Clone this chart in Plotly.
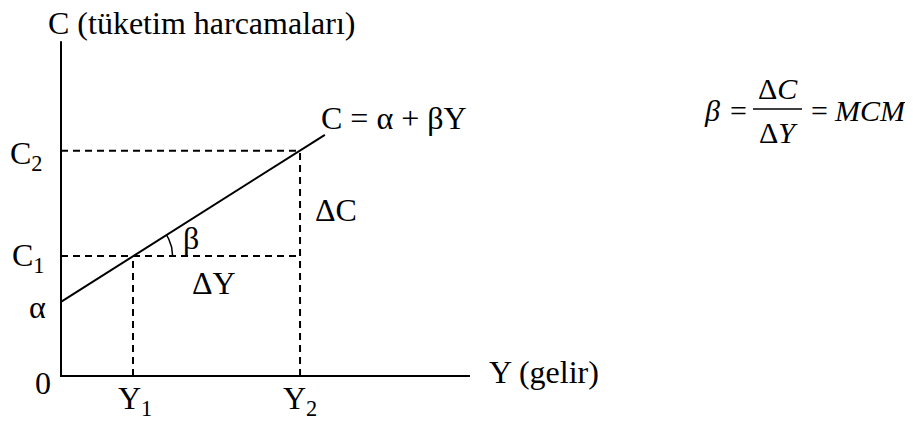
import numpy as np
import plotly.graph_objects as go

# ---- diagram values (conceptual units) ----
alpha = 2.06          # intercept
beta = 0.633          # slope (MCM)
Y_levels = [2.0, 6.64]          # Y1, Y2
C_levels = [3.33, 6.26]         # C1, C2
line_x = [0.0, 7.33]
line_c = [2.06, 6.7]
axis_xmax = 11.36
axis_ymax = 9.3

FONT = "Liberation Serif, Times New Roman, serif"
OFF = 8                       # default page body margin
W, H = 913 - OFF, 421 - OFF
PX = 36.0                     # pixels per unit
ox, oy = 61 - OFF, 376 - OFF  # origin pixel within the figure

x0 = -ox / PX
x1 = x0 + W / PX
ytop = oy / PX
ybot = ytop - H / PX

fig = go.Figure()

# axes
fig.add_trace(go.Scatter(x=[0, 0, axis_xmax], y=[axis_ymax, 0, 0], mode="lines",
                         line=dict(color="black", width=2), hoverinfo="skip"))
# consumption line
fig.add_trace(go.Scatter(x=line_x, y=line_c, mode="lines",
                         line=dict(color="black", width=2), hoverinfo="skip"))
# dashed guides
DASH = "7px,5px"
for cv in C_levels:
    fig.add_trace(go.Scatter(x=[0, Y_levels[1]], y=[cv, cv], mode="lines",
                             line=dict(color="black", width=2, dash=DASH), hoverinfo="skip"))
for yv, cv in zip(Y_levels, C_levels):
    fig.add_trace(go.Scatter(x=[yv, yv], y=[0, cv], mode="lines",
                             line=dict(color="black", width=2, dash=DASH), hoverinfo="skip"))

# angle arc for beta
r = 1.1
th = np.linspace(0, np.arctan(beta), 20)
fig.add_trace(go.Scatter(x=Y_levels[0] + r * np.cos(th), y=C_levels[0] + r * np.sin(th),
                         mode="lines", line=dict(color="black", width=1.5), hoverinfo="skip"))

def px2x(p):
    return x0 + (p - OFF) / PX

def py2y(p):
    return ytop - (p - OFF) / PX

def ann(text, xp, yp, size=32, xanchor="center"):
    fig.add_annotation(x=px2x(xp), y=py2y(yp), text=text, showarrow=False,
                       xanchor=xanchor, yanchor="middle",
                       font=dict(family=FONT, size=size, color="black"))

ann("C (tüketim harcamaları)", 46, 23, xanchor="left")
ann("C<sub>2</sub>", 45, 155, xanchor="right")
ann("C<sub>1</sub>", 47, 257, xanchor="right")
ann("α", 48, 307, xanchor="right")
ann("0", 53, 383, xanchor="right")
ann("Y<sub>1</sub>", 135, 400)
ann("Y<sub>2</sub>", 300, 400)
ann("ΔC", 336, 210)
ann("ΔY", 214, 283)
ann("β", 191, 238)
ann("C = α + βY", 319, 118, xanchor="left")
ann("Y (gelir)", 487, 372, xanchor="left")

# formula
FS = 30
ann("<i>β</i>", 712, 110, size=FS)
ann("=", 738, 110, size=FS)
ann("Δ<i>C</i>", 778, 88, size=FS)
ann("Δ<i>Y</i>", 778, 132, size=FS)
ann("=", 819, 110, size=FS)
ann("<i>MCM</i>", 832, 110, size=FS, xanchor="left")
fig.add_shape(type="line", x0=px2x(753), x1=px2x(802), y0=py2y(109), y1=py2y(109),
              line=dict(color="black", width=1.5))

fig.update_layout(width=W, height=H, margin=dict(l=0, r=0, t=0, b=0),
                  paper_bgcolor="white", plot_bgcolor="white", showlegend=False,
                  xaxis=dict(range=[x0, x1], visible=False, fixedrange=True),
                  yaxis=dict(range=[ybot, ytop], visible=False, fixedrange=True))
fig.write_html("out.html")
